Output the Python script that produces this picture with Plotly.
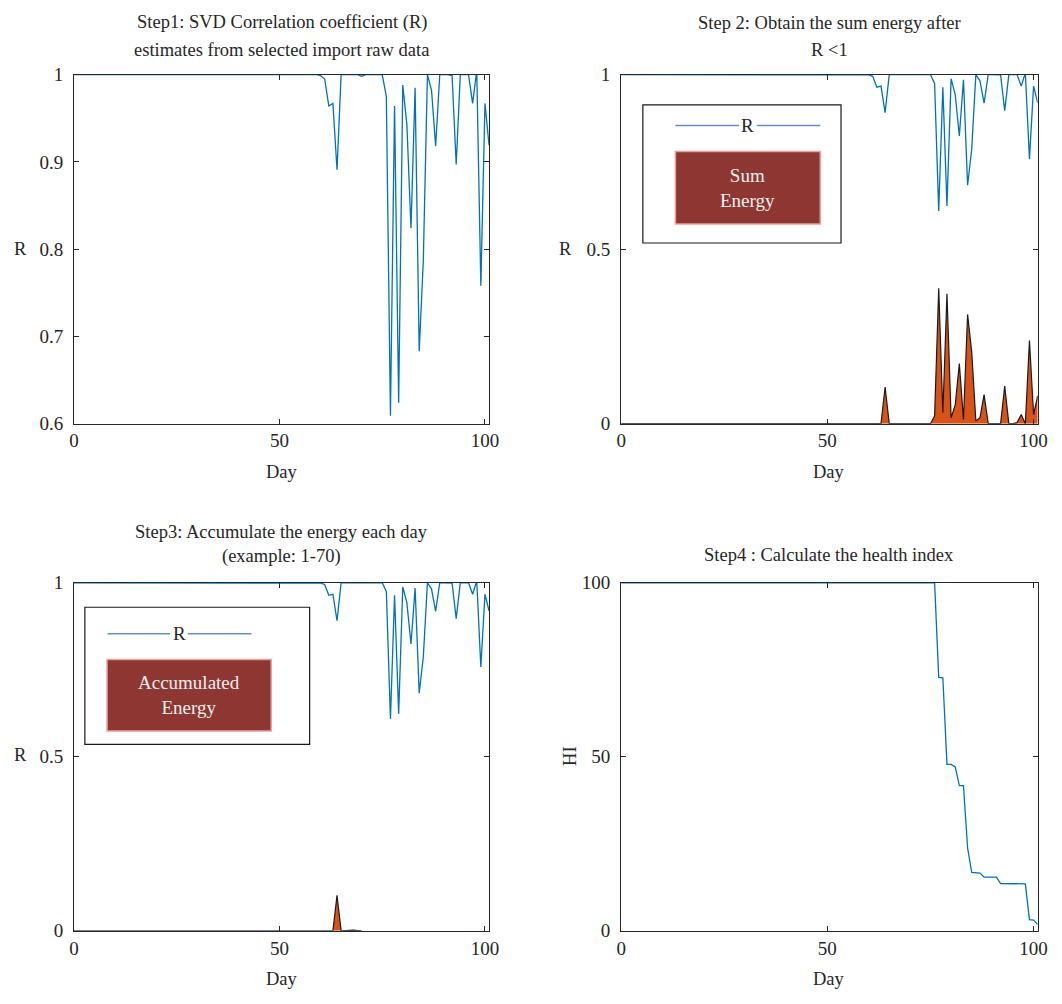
import plotly.graph_objects as go

# ---------------- data ----------------
DAYS = list(range(0, 102))

R_VALUES = [1.0] * 60 + [
    0.999, 0.995, 0.964, 0.967, 0.891,          # 60-64
    1.0, 1.0, 1.0, 1.0, 1.0, 0.998,             # 65-70
    1.0, 1.0, 1.0, 1.0, 1.0,                    # 71-75
    0.975, 0.609, 0.964, 0.624, 0.988,          # 76-80
    0.943, 0.824, 0.985, 0.683, 0.787,          # 81-85
    1.0, 0.982, 0.918, 1.0, 1.0,                # 86-90
    1.0, 0.999, 0.897, 1.0, 1.0,                # 91-95
    1.0, 0.967, 1.005, 0.758, 0.967, 0.919,     # 96-101
]

SUM_ENERGY = [0.0] * 64 + [
    0.105, 0.0, 0.0, 0.0, 0.0, 0.0, 0.002,      # 64-70
    0.0, 0.0, 0.0, 0.0, 0.0,                    # 71-75
    0.022, 0.388, 0.031, 0.372, 0.017,          # 76-80
    0.054, 0.172, 0.012, 0.313, 0.205,          # 81-85
    0.008, 0.017, 0.083, 0.0, 0.0,              # 86-90
    0.0, 0.0, 0.108, 0.0, 0.0,                  # 91-95
    0.003, 0.026, 0.0, 0.238, 0.026, 0.080,     # 96-101
]

ACC_DAYS = list(range(0, 71))
ACC_ENERGY = [0.0] * 64 + [0.102, 0.0, 0.001, 0.002, 0.002, 0.001, 0.0]

HI_VALUES = [100.0] * 77 + [
    72.8, 72.7, 47.8, 47.8, 47.1,               # 77-81
    41.7, 41.7, 23.8, 16.8, 16.8,               # 82-86
    16.6, 15.4, 15.4, 15.4, 15.4,               # 87-91
    13.6, 13.6, 13.6, 13.6, 13.6,               # 92-96
    13.6, 13.5, 3.2, 3.1, 1.8,                  # 97-101
]

X_TICKS = [0, 50, 100]
R1_TICKS = [0.6, 0.7, 0.8, 0.9, 1]
R1_LABELS = ["0.6", "0.7", "0.8", "0.9", "1"]
R2_TICKS = [0, 0.5, 1]
R2_LABELS = ["0", "0.5", "1"]
HI_TICKS = [0, 50, 100]

TITLES = [
    ["Step1: SVD Correlation coefficient (R)", "estimates from selected import raw data"],
    ["Step 2: Obtain the sum energy after", "R <1"],
    ["Step3: Accumulate the energy each day", "(example: 1-70)"],
    ["Step4 : Calculate the health index"],
]

# ---------------- style ----------------
W, H = 1062, 1004
FONT = "Liberation Serif"
TXT = "#262626"
BLUE = "#0072BD"
ORANGE = "#D95319"
FS = 18.5


def px(x):
    return x / W


def py(y):
    return 1 - y / H


fig = go.Figure()

fig.add_trace(go.Scatter(x=DAYS, y=R_VALUES, mode="lines", line=dict(color=BLUE, width=1.3),
                         xaxis="x", yaxis="y", showlegend=False))
fig.add_trace(go.Scatter(x=DAYS, y=SUM_ENERGY, mode="lines", fill="tozeroy", fillcolor=ORANGE,
                         line=dict(color="#1a1a1a", width=1.2), xaxis="x2", yaxis="y2", showlegend=False))
fig.add_trace(go.Scatter(x=DAYS, y=R_VALUES, mode="lines", line=dict(color=BLUE, width=1.3),
                         xaxis="x2", yaxis="y2", showlegend=False))
fig.add_trace(go.Scatter(x=ACC_DAYS, y=ACC_ENERGY, mode="lines", fill="tozeroy", fillcolor=ORANGE,
                         line=dict(color="#1a1a1a", width=1.2), xaxis="x3", yaxis="y3", showlegend=False))
fig.add_trace(go.Scatter(x=DAYS, y=R_VALUES, mode="lines", line=dict(color=BLUE, width=1.3),
                         xaxis="x3", yaxis="y3", showlegend=False))
fig.add_trace(go.Scatter(x=DAYS, y=HI_VALUES, mode="lines", line=dict(color=BLUE, width=1.3),
                         xaxis="x4", yaxis="y4", showlegend=False))

axis_common = dict(showline=True, linecolor=TXT, linewidth=1, mirror="ticks", ticks="inside",
                   ticklen=5, tickcolor=TXT, showgrid=False, zeroline=False,
                   tickfont=dict(family=FONT, size=19, color=TXT))

TOP = (66, 422.5)
BOT = (585, 940.5)
LEFT = (70, 491)
RIGHT = (625, 1047.5)

layout = dict(
    width=W, height=H, autosize=False, margin=dict(l=0, r=0, t=0, b=0),
    paper_bgcolor="white", plot_bgcolor="white", showlegend=False,
    font=dict(family=FONT, size=FS, color=TXT),
)
panels = [(LEFT, TOP, [0.6, 1], R1_TICKS, R1_LABELS),
          (RIGHT, TOP, [0, 1], R2_TICKS, R2_LABELS),
          (LEFT, BOT, [0, 1], R2_TICKS, R2_LABELS),
          (RIGHT, BOT, [0, 100], HI_TICKS, [str(v) for v in HI_TICKS])]
for i, (xd, yd, yr, yt, yl) in enumerate(panels):
    s = "" if i == 0 else str(i + 1)
    layout["xaxis" + s] = dict(axis_common, domain=[px(xd[0]), px(xd[1])], anchor="y" + s,
                               range=[0, 101], tickvals=X_TICKS, ticktext=[str(v) for v in X_TICKS])
    layout["yaxis" + s] = dict(axis_common, domain=[py(yd[1]), py(yd[0])], anchor="x" + s,
                               range=yr, tickvals=yt, ticktext=yl, ticklabelstandoff=6)
fig.update_layout(**layout)

ann = []


def text(x, y, t, size=FS, color=TXT, angle=0):
    ann.append(dict(x=px(x), y=py(y), xref="paper", yref="paper", text=t, showarrow=False,
                    xanchor="center", yanchor="middle", textangle=angle,
                    font=dict(family=FONT, size=size, color=color)))


text(280.5, 13, TITLES[0][0]); text(280.5, 41, TITLES[0][1])
text(836, 13, TITLES[1][0]); text(836, 41, TITLES[1][1])
text(280.5, 533, TITLES[2][0]); text(280.5, 558, TITLES[2][1])
text(836, 557, TITLES[3][0])
text(280.5, 472, "Day"); text(836, 472, "Day")
text(280.5, 990, "Day"); text(836, 990, "Day")
text(16, 244, "R"); text(569, 244, "R"); text(16, 761, "R")
text(573, 762, "HI", angle=-90)

shapes = []
LEG_LINE = "#6a8ac8"
RECT_FILL = "#8e3631"
RECT_EDGE = "#e8a0a0"


def legend(box, ly, lx0, lx1, rx, rect, label):
    shapes.append(dict(type="rect", xref="paper", yref="paper", x0=px(box[0]), x1=px(box[2]),
                       y0=py(box[3]), y1=py(box[1]), line=dict(color="#1a1a1a", width=1.2),
                       fillcolor="white", layer="above"))
    shapes.append(dict(type="line", xref="paper", yref="paper", x0=px(lx0), x1=px(rx - 9),
                       y0=py(ly), y1=py(ly), line=dict(color=LEG_LINE, width=1.6), layer="above"))
    shapes.append(dict(type="line", xref="paper", yref="paper", x0=px(rx + 9), x1=px(lx1),
                       y0=py(ly), y1=py(ly), line=dict(color=LEG_LINE, width=1.6), layer="above"))
    shapes.append(dict(type="rect", xref="paper", yref="paper", x0=px(rect[0]), x1=px(rect[2]),
                       y0=py(rect[3]), y1=py(rect[1]), line=dict(color=RECT_EDGE, width=1.5),
                       fillcolor=RECT_FILL, layer="above"))
    text(rx, ly, "R", size=19)
    text((rect[0] + rect[2]) / 2, (rect[1] + rect[3]) / 2, label, size=19, color="#f6eeee")


legend((647, 97, 848, 238), 118, 680, 827, 753.5, (680, 144.5, 827, 218.5), "Sum<br>Energy")
legend((81, 610, 309, 750), 637, 104, 250, 176.5, (103.5, 663.5, 270, 736.5), "Accumulated<br>Energy")

fig.update_layout(annotations=ann, shapes=shapes)
fig.write_html("out.html", config={"displayModeBar": False},
               post_script="document.body.style.margin='0px';document.body.style.overflow='hidden';")
